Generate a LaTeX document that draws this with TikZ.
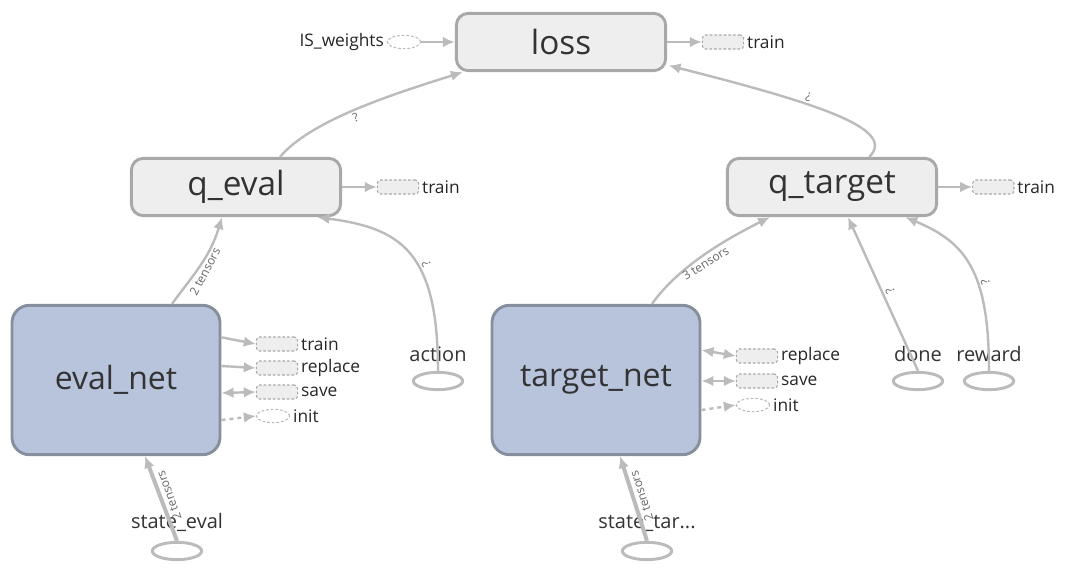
\documentclass[tikz,border=0pt]{standalone}
\usepackage{fontspec}
\setmainfont{Open Sans}
\usetikzlibrary{arrows.meta, shapes.geometric, positioning}
\definecolor{opfill}{HTML}{EEEEEE}
\definecolor{opline}{HTML}{A8A8A8}
\definecolor{netfill}{HTML}{B8C4DC}
\definecolor{netline}{HTML}{878E9E}
\definecolor{edgegray}{HTML}{BBBBBB}
\definecolor{textdark}{HTML}{333333}

\begin{document}
\begin{tikzpicture}[
    x=0.75pt, y=-0.75pt, >={Latex[length=9pt,width=8pt]},
    op/.style={rectangle, rounded corners=9pt, draw=opline, fill=opfill, line width=2.2pt, minimum width=157pt, minimum height=43pt, text=textdark, font=\fontsize{25}{30}\selectfont},
    net/.style={rectangle, rounded corners=13pt, draw=netline, fill=netfill, line width=2.2pt, minimum width=156pt, minimum height=112pt, text=textdark, font=\fontsize{24}{28}\selectfont},
    sidetext/.style={font=\fontsize{13}{15}\selectfont, text=black!85, inner sep=2pt},
    sidebox/.style={rectangle, rounded corners=2.5pt, draw=opline, fill=opfill, dash pattern=on 2pt off 1.5pt, line width=0.8pt, minimum width=31pt, minimum height=10.5pt, inner sep=0pt, label={[sidetext]right:#1}},
    sidering/.style={ellipse, draw=edgegray, fill=white, dash pattern=on 2pt off 1.5pt, line width=0.8pt, minimum width=25pt, minimum height=10pt, inner sep=0pt},
    input/.style={ellipse, draw=edgegray, fill=white, line width=2.2pt, minimum width=37pt, minimum height=13pt, inner sep=0pt, label={[font=\fontsize{15}{18}\selectfont, text=textdark, inner sep=1pt, label distance=6pt]above:#1}},
    edge/.style={draw=edgegray, line width=1.8pt, ->},
    sideedge/.style={draw=edgegray, line width=1.8pt, ->},
    elabel/.style={font=\fontsize{9}{10}\selectfont, text=black!60, inner sep=1.5pt}
]
\useasboundingbox (0,0) rectangle (1065,579);

% ops
\node (loss) [op] at (561,42) {loss};
\node (q_eval) [op] at (236,187) {q\_eval};
\node (q_target) [op] at (832,187) {q\_target};

% nets
\node (eval_net) [net] at (116,380) {eval\_net};
\node (target_net) [net] at (596,380) {target\_net};

% side nodes
\node (is_weights) [sidering, label={[sidetext]left:IS\_weights}] at (404,42) {};
\node (loss_train) [sidebox=train, right=26pt of loss] {};
\node (q_eval_train) [sidebox=train, right=26pt of q_eval] {};
\node (q_target_train) [sidebox=train, right=25.5pt of q_target] {};
\node (ev_train) [sidebox=train] at (277,344) {};
\node (ev_replace) [sidebox=replace] at (277,368) {};
\node (ev_save) [sidebox=save] at (277,392) {};
\node (ev_init) [sidering, label={[sidetext]right:init}] at (273,416) {};
\node (tg_replace) [sidebox=replace] at (757,356) {};
\node (tg_save) [sidebox=save] at (757,381) {};
\node (tg_init) [sidering, label={[sidetext]right:init}] at (753,405) {};

% inputs
\node (action) [input=action] at (438,381) {};
\node (done) [input=done] at (918,381) {};
\node (reward) [input=reward] at (989,381) {};
\node (state_eval) [input=state\_eval] at (177,551) {};
\node (state_target) [input=state\_tar...] at (647,551) {};

% edges into loss
\draw[edge] (is_weights) -- (loss);
\draw[edge] (loss) -- (loss_train);
\draw[edge] ([xshift=33pt]q_eval.north) .. controls +(30,-35) and +(-80,25) .. ([xshift=6pt]loss.south west)
    node[elabel, pos=.5, rotate=22, anchor=north] {?};
\draw[edge] ([xshift=28pt]q_target.north) .. controls +(28,-28) and +(150,38) .. ([xshift=1pt,yshift=5pt]loss.south east)
    node[elabel, pos=.62, rotate=168, anchor=north] {?};

% q_eval
\draw[edge] (q_eval) -- (q_eval_train);
\draw[edge] ([xshift=42pt]eval_net.north) .. controls +(22,-30) and +(-12,40) .. ([xshift=-10.5pt]q_eval.south)
    node[elabel, pos=.45, rotate=62, anchor=north] {2 tensors};
\draw[edge] (action.north) .. controls +(0,-121) and +(82,11) .. ([xshift=61pt]q_eval.south)
    node[elabel, pos=.4, rotate=115, anchor=north] {?};

% q_target
\draw[edge] (q_target) -- (q_target_train);
\draw[edge] ([xshift=42pt]target_net.north) .. controls +(25,-35) and +(-50,25) .. ([xshift=-46.5pt]q_target.south)
    node[elabel, pos=.5, rotate=32, anchor=north] {3 tensors};
\draw[edge] (done.north) -- ([xshift=12pt]q_target.south)
    node[elabel, pos=.5, rotate=114, anchor=north] {?};
\draw[edge] (reward.north) .. controls +(0,-100) and +(60,25) .. ([xshift=55pt]q_target.south)
    node[elabel, pos=.38, rotate=105, anchor=north] {?};

% eval_net side
\draw[sideedge] ([yshift=32pt]eval_net.east) -- (ev_train.west);
\draw[sideedge] ([yshift=10.5pt]eval_net.east) -- (ev_replace.west);
\draw[sideedge, <->] ([yshift=-9.75pt]eval_net.east) -- (ev_save.west);
\draw[sideedge, dashed] ([yshift=-30pt]eval_net.east) -- (ev_init.west);

% target_net side
\draw[sideedge, <->] ([yshift=22.5pt]target_net.east) -- (tg_replace.west);
\draw[sideedge, <->] ([yshift=-0.75pt]target_net.east) -- (tg_save.west);
\draw[sideedge, dashed] ([yshift=-22.5pt]target_net.east) -- (tg_init.west);

% states
\draw[edge, line width=3pt] (state_eval.north) -- ([xshift=21.75pt]eval_net.south)
    node[elabel, pos=.5, rotate=110, anchor=north] {2 tensors};
\draw[edge, line width=3pt] (state_target.north) -- ([xshift=18pt]target_net.south)
    node[elabel, pos=.5, rotate=108, anchor=north] {2 tensors};
\end{tikzpicture}
\end{document}
